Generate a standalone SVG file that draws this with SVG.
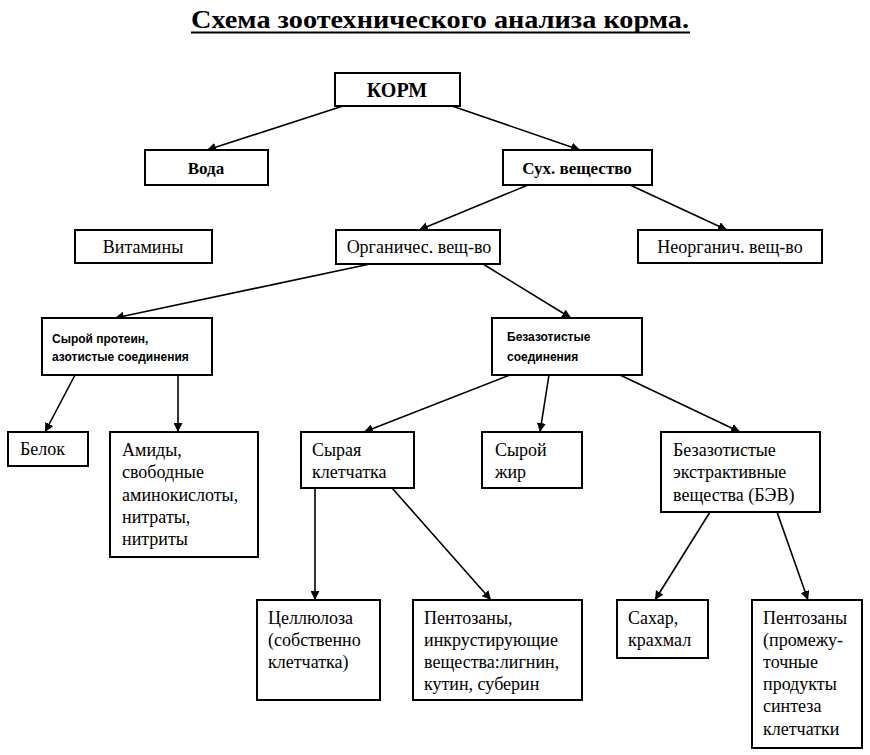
<svg xmlns="http://www.w3.org/2000/svg" width="870" height="755" viewBox="0 0 870 755">
<defs>
<marker id="ah" viewBox="0 0 10 10" refX="10" refY="5" markerWidth="9" markerHeight="9" markerUnits="userSpaceOnUse" orient="auto">
<path d="M0,0 L10,5 L0,10 z" fill="#000"/>
</marker>
<style>
.box{fill:#fff;stroke:#000;stroke-width:2}
.t{font-family:'Liberation Serif','Times New Roman','DejaVu Serif',serif;font-size:18px;fill:#000}
.b{font-family:'Liberation Serif','Times New Roman','DejaVu Serif',serif;font-size:17px;font-weight:bold;fill:#000}
.s{font-family:'Liberation Sans',Arial,sans-serif;font-size:12px;font-weight:bold;fill:#000}
.c line{stroke:#000;stroke-width:1.6;marker-end:url(#ah)}
</style>
</defs>
<rect width="870" height="755" fill="#fff"/>
<g id="title">
<text x="440" y="28" text-anchor="middle" style="font-family:'Liberation Serif','Times New Roman','DejaVu Serif',serif;font-size:25px;font-weight:bold" textLength="498" lengthAdjust="spacingAndGlyphs">Схема зоотехнического анализа корма.</text>
<line x1="191" y1="32.5" x2="690" y2="32.5" stroke="#000" stroke-width="2"/>
</g>
<g class="c">
<line x1="343" y1="106" x2="207" y2="150"/>
<line x1="452" y1="106" x2="580" y2="150"/>
<line x1="528" y1="185" x2="419" y2="230"/>
<line x1="630" y1="185" x2="727" y2="230"/>
<line x1="370" y1="264" x2="115" y2="318"/>
<line x1="483" y1="264" x2="571" y2="318"/>
<line x1="75" y1="375" x2="45" y2="432"/>
<line x1="178" y1="375" x2="178" y2="432"/>
<line x1="510" y1="375" x2="364" y2="432"/>
<line x1="549" y1="375" x2="540" y2="432"/>
<line x1="620" y1="375" x2="740" y2="432"/>
<line x1="315" y1="488" x2="315" y2="600"/>
<line x1="392" y1="488" x2="491" y2="600"/>
<line x1="710" y1="512" x2="655" y2="600"/>
<line x1="777" y1="512" x2="808" y2="600"/>
</g>
<g id="korm"><rect class="box" x="335" y="73" width="125" height="33"/><text class="b" x="397" y="97" text-anchor="middle" style="font-size:20px">КОРМ</text></g>
<g id="voda"><rect class="box" x="145" y="150" width="123" height="35"/><text class="b" x="206" y="174" text-anchor="middle">Вода</text></g>
<g id="suh"><rect class="box" x="503" y="150" width="149" height="35"/><text class="b" x="577" y="174" text-anchor="middle">Сух. вещество</text></g>
<g id="vitaminy"><rect class="box" x="75" y="230" width="137" height="33"/><text class="t" x="143" y="253" text-anchor="middle">Витамины</text></g>
<g id="organ"><rect class="box" x="336" y="230" width="164" height="34"/><text class="t" x="419" y="253" text-anchor="middle">Органичес. вещ-во</text></g>
<g id="neorgan"><rect class="box" x="638" y="230" width="184" height="33"/><text class="t" x="730" y="253" text-anchor="middle">Неорганич. вещ-во</text></g>
<g id="protein"><rect class="box" x="42" y="318" width="170" height="57"/><text class="s" x="52" y="343">Сырой протеин,</text><text class="s" x="52" y="361">азотистые соединения</text></g>
<g id="bezazot"><rect class="box" x="492" y="318" width="150" height="57"/><text class="s" x="507" y="341">Безазотистые</text><text class="s" x="507" y="361">соединения</text></g>
<g id="belok"><rect class="box" x="8" y="432" width="80" height="34"/><text class="t" x="20" y="455">Белок</text></g>
<g id="amidy"><rect class="box" x="110" y="432" width="148" height="125"/><text class="t" x="122" y="456">Амиды,</text><text class="t" x="122" y="478">свободные</text><text class="t" x="122" y="501">аминокислоты,</text><text class="t" x="122" y="523">нитраты,</text><text class="t" x="122" y="545">нитриты</text></g>
<g id="kletch"><rect class="box" x="301" y="432" width="113" height="56"/><text class="t" x="312" y="456">Сырая</text><text class="t" x="312" y="478">клетчатка</text></g>
<g id="zhir"><rect class="box" x="482" y="432" width="100" height="56"/><text class="t" x="495" y="456">Сырой</text><text class="t" x="495" y="478">жир</text></g>
<g id="bev"><rect class="box" x="661" y="432" width="159" height="80"/><text class="t" x="673" y="456">Безазотистые</text><text class="t" x="673" y="478">экстрактивные</text><text class="t" x="673" y="501">вещества (БЭВ)</text></g>
<g id="cellul"><rect class="box" x="257" y="600" width="123" height="100"/><text class="t" x="268" y="624">Целлюлоза</text><text class="t" x="268" y="646">(собственно</text><text class="t" x="268" y="668">клетчатка)</text></g>
<g id="pentoz1"><rect class="box" x="413" y="600" width="169" height="100"/><text class="t" x="424" y="624">Пентозаны,</text><text class="t" x="424" y="646">инкрустирующие</text><text class="t" x="424" y="668">вещества:лигнин,</text><text class="t" x="424" y="690">кутин, суберин</text></g>
<g id="sahar"><rect class="box" x="617" y="600" width="91" height="58"/><text class="t" x="628" y="624">Сахар,</text><text class="t" x="628" y="646">крахмал</text></g>
<g id="pentoz2"><rect class="box" x="752" y="600" width="110" height="148"/><text class="t" x="763" y="624">Пентозаны</text><text class="t" x="763" y="646">(промежу-</text><text class="t" x="763" y="668">точные</text><text class="t" x="763" y="690">продукты</text><text class="t" x="763" y="712">синтеза</text><text class="t" x="763" y="735">клетчатки</text></g>
</svg>
